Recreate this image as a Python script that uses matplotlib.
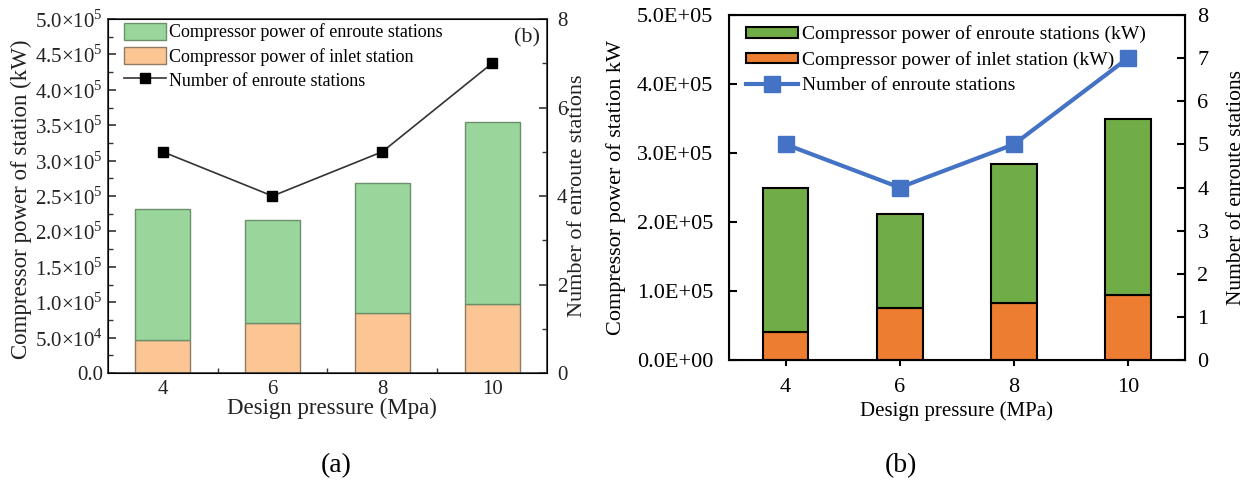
import matplotlib
matplotlib.use("Agg")
import matplotlib.pyplot as plt
from matplotlib.ticker import FixedLocator, FuncFormatter, MultipleLocator

plt.rcParams["font.family"] = ["Liberation Serif", "DejaVu Serif"]
plt.rcParams["mathtext.fontset"] = "custom"
plt.rcParams["mathtext.rm"] = "Liberation Serif"

pressure = [4, 6, 8, 10]
n_stations = [5, 4, 5, 7]

# panel (a)
inlet_a = [4.65e4, 7.0e4, 8.5e4, 9.75e4]
total_a = [2.31e5, 2.165e5, 2.68e5, 3.54e5]
enroute_a = [t - i for t, i in zip(total_a, inlet_a)]

# panel (b)
inlet_b = [4.0e4, 7.5e4, 8.3e4, 9.4e4]
total_b = [2.5e5, 2.11e5, 2.84e5, 3.5e5]
enroute_b = [t - i for t, i in zip(total_b, inlet_b)]

a_ticks = [0, 5e4, 1e5, 1.5e5, 2e5, 2.5e5, 3e5, 3.5e5, 4e5, 4.5e5, 5e5]


def sci_fmt(v, _):
    if v == 0:
        return "0.0"
    exp = int(f"{v:e}".split("e")[1])
    mant = v / 10**exp
    return rf"{mant:.1f}$\times$10$^{{{exp}}}$"


fig = plt.figure(figsize=(12.53, 4.91), dpi=100)

# ---------------- (a) ----------------
dark = "#333333"
ax = fig.add_axes([0.0860, 0.2403, 0.3506, 0.7210])
ax.bar(pressure, inlet_a, width=1.0, color="#FCC694", edgecolor="#8f7a62",
       linewidth=1.0, label="Compressor power of inlet station", zorder=2)
ax.bar(pressure, enroute_a, width=1.0, bottom=inlet_a, color="#9AD69B",
       edgecolor="#6b8f6b", linewidth=1.0,
       label="Compressor power of enroute stations", zorder=2)
ax.set_xlim(3, 11)
ax.set_ylim(0, 5e5)
ax.yaxis.set_major_locator(FixedLocator(a_ticks))
ax.yaxis.set_major_formatter(FuncFormatter(sci_fmt))
ax.yaxis.set_minor_locator(MultipleLocator(2.5e4))
ax.xaxis.set_major_locator(FixedLocator(pressure))
ax.xaxis.set_minor_locator(FixedLocator([5, 7, 9]))
ax.tick_params(which="both", direction="in", labelsize=15, colors=dark,
               labelcolor="#222222")
ax.tick_params(which="major", length=6, width=1.2)
ax.tick_params(which="minor", length=3.5, width=1.0)
ax.tick_params(axis="x", pad=5)
ax.set_xlabel("Design pressure (Mpa)", fontsize=16.5, color="#222222")
ax.set_ylabel("Compressor power of station (kW)", fontsize=16.5,
              color="#222222")
ax.xaxis.set_label_coords(0.51, -0.071)
ax.yaxis.set_label_coords(-0.172, 0.49)
for s in ax.spines.values():
    s.set_color(dark)
    s.set_linewidth(1.2)

axr = ax.twinx()
(ln_a,) = axr.plot(pressure, n_stations, color=dark, lw=1.2, marker="s",
                   ms=6.5, mfc="black", mec="black",
                   label="Number of enroute stations")
axr.set_ylim(0, 8)
axr.yaxis.set_major_locator(MultipleLocator(2))
axr.yaxis.set_minor_locator(MultipleLocator(1))
axr.tick_params(which="both", direction="in", labelsize=15, colors=dark,
                labelcolor="#222222", pad=7)
axr.tick_params(which="major", length=6, width=1.2)
axr.tick_params(which="minor", length=3.5, width=1.0)
axr.set_ylabel("Number of enroute stations", fontsize=16, color="#222222")
axr.yaxis.set_label_coords(1.048, 0.5)
h, l = ax.get_legend_handles_labels()
axr.legend([h[1], h[0], ln_a], [l[1], l[0], ln_a.get_label()],
           loc="upper left", bbox_to_anchor=(0.037, 0.99), frameon=False,
           fontsize=13, handlelength=2.3, handleheight=1.1,
           handletextpad=0.2, labelspacing=0.3, borderpad=0,
           borderaxespad=0)
ax.text(0.984, 0.946, "(b)", transform=ax.transAxes, ha="right", va="center",
        fontsize=16, color="#222222")
fig.text(0.268, 0.052, "(a)", ha="center", va="center", fontsize=20)

# ---------------- (b) ----------------
bx = fig.add_axes([0.5815, 0.2668, 0.3642, 0.7026])
bx.bar(pressure, inlet_b, width=0.8, color="#ED7D31", edgecolor="black",
       linewidth=1.5, label="Compressor power of inlet station (kW)", zorder=2)
bx.bar(pressure, enroute_b, width=0.8, bottom=inlet_b, color="#70AD47",
       edgecolor="black", linewidth=1.5,
       label="Compressor power of enroute stations (kW)", zorder=2)
bx.set_xlim(3, 11)
bx.set_ylim(0, 5e5)
bx.yaxis.set_major_locator(MultipleLocator(1e5))
bx.yaxis.set_major_formatter(FuncFormatter(lambda v, _: f"{v:.1E}"))
bx.xaxis.set_major_locator(FixedLocator(pressure))
bx.tick_params(axis="y", direction="in", length=6, width=1.5, labelsize=16,
               pad=11)
bx.tick_params(axis="x", direction="inout", length=8, width=1.5, labelsize=16,
               pad=9)
bx.set_xlabel("Design pressure (MPa)", fontsize=15)
bx.set_ylabel("Compressor power of station kW", fontsize=16)
bx.xaxis.set_label_coords(0.5, -0.119)
bx.yaxis.set_label_coords(-0.225, 0.5)
for s in bx.spines.values():
    s.set_linewidth(1.5)

bxr = bx.twinx()
(ln_b,) = bxr.plot(pressure, n_stations, color="#4472C4", lw=3, marker="s",
                   ms=11, label="Number of enroute stations")
bxr.set_ylim(0, 8)
bxr.yaxis.set_major_locator(MultipleLocator(1))
bxr.tick_params(direction="in", length=6, width=1.5, labelsize=16, pad=9)
bxr.set_ylabel("Number of enroute stations", fontsize=15.5)
bxr.yaxis.set_label_coords(1.092, 0.5)
h, l = bx.get_legend_handles_labels()
bxr.legend([h[1], h[0], ln_b], [l[1], l[0], ln_b.get_label()],
           loc="upper left", bbox_to_anchor=(0.038, 0.97), frameon=False,
           fontsize=14, handlelength=2.7, handleheight=0.45,
           handletextpad=0.2, labelspacing=0.4, borderpad=0,
           borderaxespad=0)
fig.text(0.719, 0.052, "(b)", ha="center", va="center", fontsize=20)

fig.savefig("out.png", dpi=100)
